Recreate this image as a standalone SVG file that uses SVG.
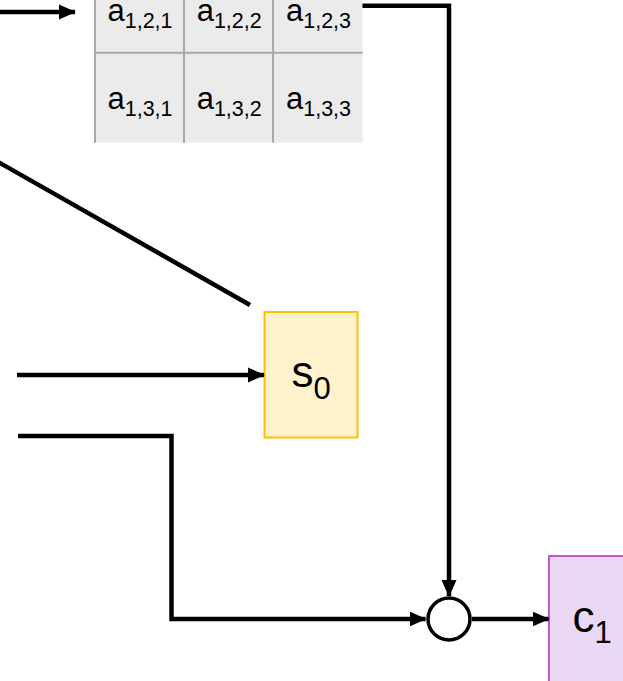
<svg xmlns="http://www.w3.org/2000/svg" width="623" height="681" viewBox="0 0 623 681">
<style>
.lbl{font-family:"Liberation Sans",Arial,sans-serif;fill:#000;text-anchor:middle}
.cell{font-size:31px}
.cell .sub{font-size:21.5px}
.big{font-size:44px}
.big .sub{font-size:31px}
.edge{fill:none;stroke:#000;stroke-width:4.5}
.grid{stroke:#a9a9a9;stroke-width:2}
</style>
<defs>
<marker id="ah" markerUnits="userSpaceOnUse" markerWidth="18" markerHeight="16" refX="16" refY="8" orient="auto">
<path d="M0,0.5 L17,8 L0,15.5 Z" fill="#000"/>
</marker>
</defs>
<rect width="623" height="681" fill="#fff"/>
<g id="matrix">
<rect x="94.5" y="-40" width="268" height="182.7" fill="#ebebeb"/>
<line class="grid" x1="95" y1="-40" x2="95" y2="142.7"/>
<line class="grid" x1="184" y1="-40" x2="184" y2="142.7"/>
<line class="grid" x1="273" y1="-40" x2="273" y2="142.7"/>
<line class="grid" x1="94.5" y1="52.7" x2="362.5" y2="52.7"/>
<text class="lbl cell" x="140" y="20.5">a<tspan class="sub" dy="7">1,2,1</tspan></text>
<text class="lbl cell" x="229.2" y="20.5">a<tspan class="sub" dy="7">1,2,2</tspan></text>
<text class="lbl cell" x="318.5" y="20.5">a<tspan class="sub" dy="7">1,2,3</tspan></text>
<text class="lbl cell" x="140" y="109">a<tspan class="sub" dy="7">1,3,1</tspan></text>
<text class="lbl cell" x="229.2" y="109">a<tspan class="sub" dy="7">1,3,2</tspan></text>
<text class="lbl cell" x="318.5" y="109">a<tspan class="sub" dy="7">1,3,3</tspan></text>
</g>
<g id="s0">
<rect x="264.5" y="312" width="93" height="125.5" fill="#fff2cc" stroke="#ffc000" stroke-width="2"/>
<text class="lbl big" x="311" y="386.5">s<tspan class="sub" dy="12.5">0</tspan></text>
</g>
<g id="sum">
<circle cx="449" cy="619" r="21" fill="#fff" stroke="#000" stroke-width="3.5"/>
</g>
<g id="c1">
<rect x="549" y="556" width="93" height="126" fill="#e8d8f3" stroke="#c356d6" stroke-width="2"/>
<text class="lbl big" x="592" y="632">c<tspan class="sub" dy="11.3">1</tspan></text>
</g>
<g id="connectors">
<line class="edge" x1="-5" y1="12" x2="75" y2="12" marker-end="url(#ah)"/>
<polyline class="edge" points="362.5,5.8 449,5.8 449,596" marker-end="url(#ah)"/>
<line class="edge" x1="-10" y1="157.3" x2="250" y2="305"/>
<line class="edge" x1="17" y1="375" x2="264" y2="375" marker-end="url(#ah)"/>
<polyline class="edge" points="18,436 171.5,436 171.5,619 425.5,619" marker-end="url(#ah)"/>
<line class="edge" x1="472" y1="619" x2="548.5" y2="619" marker-end="url(#ah)"/>
</g>
</svg>
